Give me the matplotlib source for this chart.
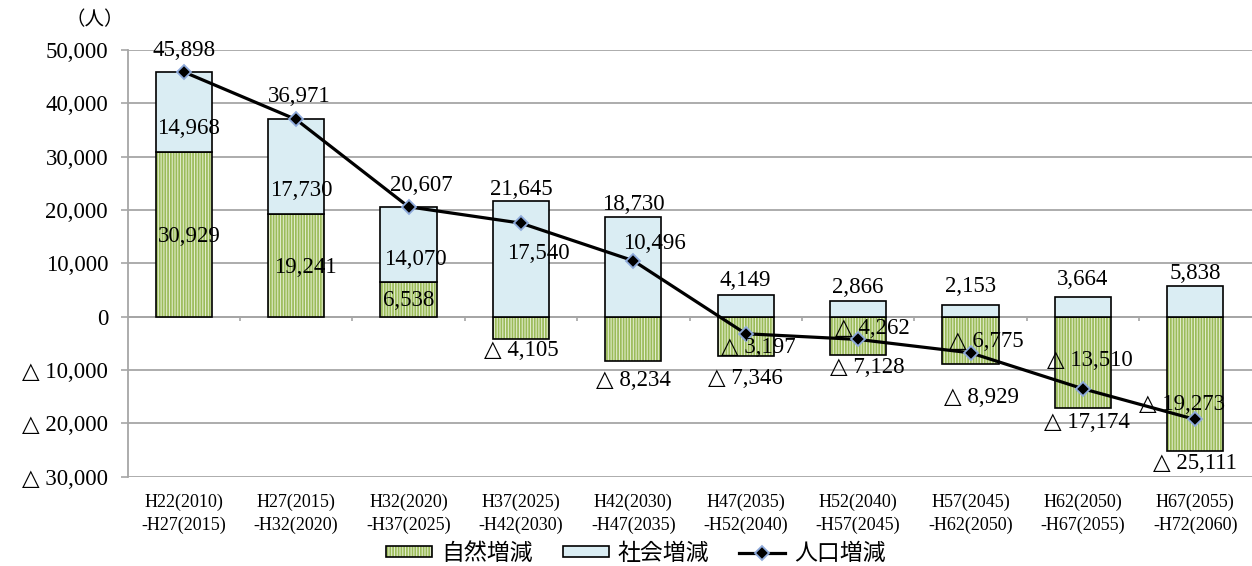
import numpy as np
import matplotlib
matplotlib.use("Agg")
import matplotlib.pyplot as plt
from matplotlib.patches import Patch
from matplotlib.lines import Line2D
from matplotlib.legend_handler import HandlerTuple

# ---------------- data ----------------
categories = ["H22(2010)\n-H27(2015)", "H27(2015)\n-H32(2020)", "H32(2020)\n-H37(2025)",
              "H37(2025)\n-H42(2030)", "H42(2030)\n-H47(2035)", "H47(2035)\n-H52(2040)",
              "H52(2040)\n-H57(2045)", "H57(2045)\n-H62(2050)", "H62(2050)\n-H67(2055)",
              "H67(2055)\n-H72(2060)"]
natural = [30929, 19241, 6538, -4105, -8234, -7346, -7128, -8929, -17174, -25111]
social = [14968, 17730, 14070, 21645, 18730, 4149, 2866, 2153, 3664, 5838]
total = [45898, 36971, 20607, 17540, 10496, -3197, -4262, -6775, -13510, -19273]
yticks = [-30000, -20000, -10000, 0, 10000, 20000, 30000, 40000, 50000]
series_names = ["自然増減", "社会増減", "人口増減"]
unit_label = "（人）"

# ---------------- style ----------------
SERIF = ["Liberation Serif", "DejaVu Serif"]
CJK = ["Noto Sans CJK JP", "DejaVu Sans"]
GREEN = "#9bbb59"
GREEN_LIGHT = "#e4eed1"
BLUE = "#daedf3"
GRID = "#a6a6a6"

plt.rcParams["hatch.linewidth"] = 1.25

# label offsets in pixels (dx, dy with up positive)
total_off = [(0, 21), (3, 23), (13, 21), (17, -30), (21, 17), (13, -14), (14, 11), (16, 11), (7, 28), (-13, 15)]
social_off = [(5, -17), (5, -24), (7, -15), (0, 12), (0, 12), (0, 14), (0, 14), (0, 19), (0, 18), (0, 12)]
natural_off = [(6, -2), (9, -2), (0, -1.5), (0, -12), (0, -20), (0, -23), (9, -13), (11, -33), (4, -14), (0, -13)]


def fmt(v):
    return f"{v:,}" if v >= 0 else f"△ {-v:,}"


fig = plt.figure(figsize=(12.52, 5.66), dpi=100)
ax = fig.add_axes([127.5 / 1252, 1 - 476.7 / 566, 1124 / 1252, (476.7 - 50) / 566])

x = np.arange(len(categories))
nat = np.array(natural)
soc = np.array(social)
tot = np.array(total)
soc_bottom = np.maximum(nat, 0)

w = 0.5
ax.bar(x, nat, w, color=GREEN_LIGHT, edgecolor=GREEN, hatch="||||||", linewidth=0, zorder=2)
ax.bar(x, nat, w, fill=False, edgecolor="black", linewidth=1.2, zorder=3)
ax.bar(x, soc, w, bottom=soc_bottom, color=BLUE, edgecolor="black", linewidth=1.2, zorder=3)

# category axis at zero with small boundary ticks
ax.axhline(0, color=GRID, lw=1.3, zorder=1.5)
ax.vlines(x[:-1] + 0.5, -900, 0, color=GRID, lw=1.2, zorder=1.5)

ax.plot(x, tot, color="black", lw=2.3, marker="D", ms=7.5, mfc="black", mec="#8eaadb",
        mew=1.3, zorder=5)

ax.set_xlim(-0.5, len(categories) - 0.5)
ax.set_ylim(-30000, 50000)
ax.set_yticks(yticks)
ax.set_yticklabels([fmt(v) for v in yticks], fontfamily=SERIF, fontsize=16.5)
ax.set_xticks(x)
ax.set_xticklabels(categories, fontfamily=SERIF, fontsize=13, linespacing=1.45)
ax.tick_params(axis="x", length=0, pad=12)
ax.tick_params(axis="y", length=5, width=1.2, color=GRID, pad=9)
ax.yaxis.grid(True, color=GRID, lw=1.3, zorder=0)
ax.set_axisbelow(True)
for s in ["top", "right", "bottom"]:
    ax.spines[s].set_visible(False)
ax.spines["left"].set_color(GRID)
ax.spines["left"].set_linewidth(1.3)

lab_kw = dict(textcoords="offset pixels", ha="center", va="center",
              fontfamily=SERIF, fontsize=16.5, zorder=6)

for i in range(len(categories)):
    # natural
    if nat[i] > 0:
        anchor = nat[i] / 2
    else:
        anchor = nat[i]
    ax.annotate(fmt(nat[i]), (x[i], anchor), xytext=natural_off[i], **lab_kw)
    # social
    if nat[i] > 0:
        anchor = soc_bottom[i] + soc[i] / 2
    else:
        anchor = soc_bottom[i] + soc[i]
    ax.annotate(fmt(soc[i]), (x[i], anchor), xytext=social_off[i], **lab_kw)
    # total
    ax.annotate(fmt(tot[i]), (x[i], tot[i]), xytext=total_off[i], **lab_kw)

fig.text(95 / 1252, 1 - 20 / 566, unit_label, ha="center", va="center",
         fontfamily=CJK, fontsize=14)

h_nat = (Patch(facecolor=GREEN_LIGHT, edgecolor=GREEN, hatch="||||||", linewidth=0),
         Patch(fill=False, edgecolor="black", linewidth=1.2))
h_soc = Patch(facecolor=BLUE, edgecolor="black", linewidth=1.2)
h_tot = Line2D([], [], color="black", lw=2.3, marker="D", ms=7.5, mfc="black",
               mec="#8eaadb", mew=1.3)
fig.legend([h_nat, h_soc, h_tot], series_names,
           handler_map={tuple: HandlerTuple(ndivide=1)},
           loc="center", bbox_to_anchor=(636 / 1252, 1 - 553 / 566), ncol=3,
           frameon=False, prop={"family": CJK, "size": 16.5},
           handlelength=2.0, handleheight=0.4, handletextpad=0.4, columnspacing=1.3,
           borderpad=0, borderaxespad=0)

fig.savefig("out.png", dpi=100)
